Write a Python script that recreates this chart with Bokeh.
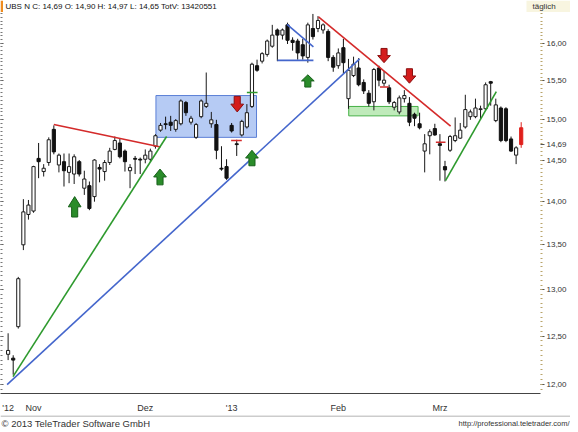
import math
from bokeh.plotting import figure
from bokeh.layouts import column
from bokeh.models import Range1d, FixedTicker, ColumnDataSource, LogAxis
from bokeh.core.properties import value
from bokeh.embed import file_html
from bokeh.resources import INLINE

# ---------------- data ----------------
opens = [12.31, 12.27, 12.60, 13.50, 13.85, 13.89, 14.52, 14.36, 14.47, 14.88,
         14.44, 14.48, 14.35, 14.33, 14.48, 14.16, 14.19, 14.06, 14.41, 14.36,
         14.47, 14.63, 14.71, 14.61, 14.37, 14.52, 14.51, 14.51, 14.51, 14.67,
         14.87, 14.95, 14.97, 14.88, 14.95, 15.22, 14.97, 14.78, 15.04, 15.17,
         14.95, 14.94, 14.40, 14.42, 14.93, 14.70, 14.81, 14.91, 15.17, 15.70,
         15.76, 15.85, 15.96, 16.18, 16.11, 16.25, 16.04, 16.03, 15.98, 15.81,
         16.20, 16.20, 16.18, 16.16, 15.81, 15.70, 15.94, 15.27, 15.57, 15.67,
         15.48, 15.34, 15.23, 15.67, 15.47, 15.41, 15.16, 15.10, 15.27, 15.21,
         15.07, 14.95, 14.61, 14.80, 14.89, 14.70, 14.42, 14.62, 14.74, 14.77,
         14.91, 15.04, 15.04, 15.13, 15.14, 15.49, 14.99, 15.15, 15.14, 14.76,
         14.56, 14.90]
highs = [12.53, 12.30, 13.14, 14.03, 14.02, 14.43, 14.71, 14.45, 14.78, 14.93,
         14.58, 14.58, 14.58, 14.57, 14.50, 14.37, 14.24, 14.51, 14.45, 14.50,
         14.65, 14.79, 14.77, 14.63, 14.45, 14.55, 14.53, 14.63, 14.64, 14.82,
         14.96, 15.04, 15.05, 15.01, 15.26, 15.24, 15.05, 14.96, 15.26, 15.61,
         15.10, 15.00, 14.67, 14.51, 14.96, 14.75, 15.00, 15.20, 15.74, 15.78,
         15.88, 16.05, 16.25, 16.20, 16.20, 16.28, 16.08, 16.06, 16.06, 16.28,
         16.40, 16.37, 16.27, 16.19, 15.84, 15.93, 16.06, 15.79, 15.82, 15.80,
         15.52, 15.38, 15.67, 15.70, 15.63, 15.45, 15.24, 15.31, 15.38, 15.29,
         15.09, 15.09, 14.82, 14.88, 14.95, 14.82, 14.49, 14.81, 15.03, 14.96,
         15.32, 15.13, 15.27, 15.18, 15.48, 15.50, 15.27, 15.17, 15.16, 14.79,
         14.67, 14.97]
lows = [12.25, 12.10, 12.58, 13.44, 13.79, 13.87, 14.28, 14.30, 14.43, 14.57,
        14.35, 14.18, 14.22, 14.21, 14.30, 14.08, 13.90, 14.00, 14.23, 14.25,
        14.44, 14.62, 14.52, 14.36, 14.16, 14.33, 14.33, 14.46, 14.48, 14.64,
        14.85, 14.88, 14.86, 14.85, 14.93, 15.05, 14.94, 14.76, 15.02, 15.15,
        14.90, 14.51, 14.37, 14.26, 14.84, 14.55, 14.79, 14.89, 15.15, 15.62,
        15.73, 15.82, 15.94, 15.76, 16.05, 15.99, 15.90, 15.78, 15.78, 15.74,
        16.05, 16.15, 16.13, 15.76, 15.62, 15.66, 15.60, 15.14, 15.55, 15.43,
        15.33, 15.17, 15.12, 15.43, 15.43, 15.20, 15.12, 15.07, 15.22, 14.92,
        14.92, 14.88, 14.35, 14.57, 14.80, 14.25, 14.24, 14.60, 14.72, 14.76,
        14.89, 15.00, 15.02, 15.00, 15.12, 15.18, 14.97, 14.72, 14.72, 14.60,
        14.45, 14.65]
closes = [12.35, 12.25, 13.12, 13.88, 13.96, 14.42, 14.48, 14.40, 14.75, 14.60,
          14.56, 14.37, 14.42, 14.54, 14.33, 14.27, 13.92, 14.50, 14.39, 14.47,
          14.61, 14.74, 14.54, 14.48, 14.41, 14.51, 14.50, 14.56, 14.61, 14.80,
          14.93, 14.94, 14.93, 14.99, 15.24, 15.09, 15.02, 14.94, 15.24, 15.21,
          15.00, 14.62, 14.39, 14.28, 14.86, 14.69, 14.98, 15.09, 15.72, 15.64,
          15.86, 16.03, 16.11, 16.11, 16.18, 16.04, 16.01, 15.87, 15.83, 16.25,
          16.09, 16.31, 16.25, 15.81, 15.68, 15.87, 15.74, 15.64, 15.72, 15.45,
          15.37, 15.21, 15.65, 15.51, 15.51, 15.23, 15.22, 15.28, 15.31, 14.97,
          15.02, 14.90, 14.70, 14.85, 14.81, 14.68, 14.38, 14.79, 14.80, 14.87,
          15.13, 15.10, 15.15, 15.14, 15.45, 15.47, 15.19, 14.74, 14.74, 14.61,
          14.65, 14.69]
total_volume = 13420551
instrument = "UBS N"
interval_label = "täglich"
copyright_text = "© 2013 TeleTrader Software GmbH"
source_url = "http://professional.teletrader.com/"

x_tick_pos = [0, 5, 27, 44, 65, 85]
x_tick_labels = ["'12", "Nov", "Dez", "'13", "Feb", "Mrz"]
y_tick_values = [12.0, 12.5, 13.0, 13.5, 14.0, 14.5, 15.0, 15.5, 16.0]
y_tick_labels = ["12,00", "12,50", "13,00", "13,50", "14,00", "14,50", "15,00", "15,50", "16,00"]

# drawn trend lines (candle index, price)
trend_x0 = [9.0, 0.96, -0.2, 54.9, 53.0, 61.1, 86.1]
trend_p0 = [14.94, 12.08, 12.00, 16.255, 15.77, 16.36, 14.25]
trend_x1 = [30.0, 31.2, 69.2, 60.1, 60.1, 87.1, 96.1]
trend_p1 = [14.66, 14.79, 15.79, 15.95, 15.77, 14.92, 15.36]
trend_kind = ["red", "green", "blue", "blue", "blue", "red", "green"]

# zones (index range, price range)
zone_left = [29.1, 67.05]
zone_right = [48.9, 80.7]
zone_top = [15.31, 15.17]
zone_bottom = [14.78, 15.05]
zone_kind = ["blue", "green"]

# signal arrows
up_x = [13.1, 29.9, 48.0, 59.0]
up_tip = [14.06, 14.39, 14.62, 15.58]
up_base = [13.82, 14.20, 14.43, 15.42]
down_x = [45.1, 74.0, 79.0]
down_top = [15.30, 15.93, 15.66]
down_tip = [15.10, 15.74, 15.47]

# stop / entry marks (index range, price)
stop_x0 = [43.9, 73.2, 84.2]
stop_x1 = [46.0, 74.9, 86.1]
stop_p = [14.74, 15.42, 14.72]
entry_x0 = [47.0]
entry_x1 = [49.1]
entry_p = [15.35]

# ---------------- styles ----------------
FONT = "Liberation Sans"
line_colors = {"red": "#d42a2a", "green": "#2e9a2e", "blue": "#4466cc"}
zone_fill = {"blue": "#a9c2f2", "green": "#b4e6ae"}
zone_line = {"blue": "#5b7fd6", "green": "#45b045"}

W = 570
x_lo, x_hi = -1.5, 104.8
y_lo, y_hi = 11.91, 16.42
FW, FH = 540, 381


def fmt(v):
    return f"{v:.2f}".replace(".", ",")


def no_align(f):
    if "frame_align" in f.properties():
        f.frame_align = False


def strip(height):
    f = figure(width=W, height=height, x_range=Range1d(0, W), y_range=Range1d(0, height),
               output_backend="svg", toolbar_location=None,
               min_border=0, x_axis_location=None, y_axis_location=None)
    f.outline_line_color = None
    f.xgrid.visible = False
    f.ygrid.visible = False
    no_align(f)
    return f


# ---------------- header strip ----------------
header = (f"{instrument} C: {fmt(closes[-1])} O: {fmt(opens[-1])} H: {fmt(highs[-1])} "
          f"L: {fmt(lows[-1])} TotV: {total_volume}")
top = strip(12)
top.quad(left=[0], right=[2.5], bottom=[0], top=[12], fill_color="#f08c1e", line_color=None)
top.quad(left=[526], right=[W], bottom=[0], top=[12], fill_color="#f8f5e0", line_color=None)
top.text(x=[5], y=[6], text=[header], text_font=value(FONT), text_font_size="8px",
         text_color="#111111", text_baseline="middle")
top.text(x=[532], y=[6], text=[interval_label], text_font=value(FONT), text_font_size="8px",
         text_color="#333333", text_baseline="middle")

# ---------------- main chart ----------------
p = figure(frame_width=FW, frame_height=FH, y_axis_type="log", y_axis_location="right",
           x_range=Range1d(x_lo, x_hi), y_range=Range1d(y_lo, y_hi),
           output_backend="svg", toolbar_location=None,
           min_border_left=0, min_border_right=28, min_border_top=0, min_border_bottom=17)
no_align(p)
p.outline_line_color = None
p.background_fill_color = "white"
p.border_fill_color = "white"
p.xgrid.visible = False
p.ygrid.visible = False

minor = [round(11.95 + 0.05 * i, 2) for i in range(0, 91)]
last_close = closes[-1]
ya = p.yaxis[0]
ya.ticker = FixedTicker(ticks=y_tick_values + [last_close], minor_ticks=minor)
overrides = {v: l for v, l in zip(y_tick_values, y_tick_labels)}
overrides[last_close] = fmt(last_close)
ya.major_label_overrides = overrides
ya.axis_line_color = None
ya.major_tick_line_color = "#555555"
ya.major_tick_out = 4
ya.major_tick_in = 0
ya.minor_tick_line_color = "#b9a46a"
ya.minor_tick_out = 2
ya.minor_tick_in = 0
ya.major_label_text_font = FONT
ya.major_label_text_font_size = "8px"
ya.major_label_text_color = "#333333"
ya.major_label_standoff = 2

# left edge: tick marks only
la = LogAxis(ticker=FixedTicker(ticks=y_tick_values, minor_ticks=minor),
             major_label_text_font_size="0px", major_label_standoff=0,
             axis_line_color=None, major_tick_in=3, major_tick_out=0,
             minor_tick_in=2, minor_tick_out=0,
             major_tick_line_color="#555555", minor_tick_line_color="#777777")
la.major_label_overrides = {v: "" for v in y_tick_values}
p.add_layout(la, "left")

xa = p.xaxis[0]
xa.ticker = FixedTicker(ticks=x_tick_pos)
xa.major_label_overrides = {v: l for v, l in zip(x_tick_pos, x_tick_labels)}
xa.axis_line_color = "#444444"
xa.major_tick_line_color = None
xa.minor_tick_line_color = None
xa.major_label_text_font = FONT
xa.major_label_text_font_size = "9px"
xa.major_label_text_color = "#333333"
xa.major_label_standoff = 3

# zones
p.quad(left=zone_left, right=zone_right, top=zone_top, bottom=zone_bottom,
       fill_color=[zone_fill[k] for k in zone_kind], fill_alpha=0.85,
       line_color=[zone_line[k] for k in zone_kind], line_width=1)

# candles
n = len(closes)
xs = list(range(n))
body_top = [max(o, c) for o, c in zip(opens, closes)]
body_bot = [min(o, c) for o, c in zip(opens, closes)]
fills, edges = [], []
for i, (o, c) in enumerate(zip(opens, closes)):
    if i == n - 1:
        fills.append("#e0201c"); edges.append("#e0201c")
    elif c >= o:
        fills.append("white"); edges.append("#1a1a1a")
    else:
        fills.append("#111111"); edges.append("#111111")
src = ColumnDataSource(dict(x=xs, o=opens, h=highs, l=lows, c=closes,
                            bt=body_top, bb=body_bot, fill=fills, edge=edges))
p.segment(x0="x", y0="h", x1="x", y1="l", source=src, line_color="edge", line_width=1)
p.vbar(x="x", top="bt", bottom="bb", width=0.62, source=src,
       fill_color="fill", line_color="edge", line_width=1)

# trend lines
p.segment(x0=trend_x0, y0=trend_p0, x1=trend_x1, y1=trend_p1,
          line_color=[line_colors[k] for k in trend_kind], line_width=1.6)

# stop / entry marks
p.segment(x0=stop_x0, y0=stop_p, x1=stop_x1, y1=stop_p, line_color="#d42a2a", line_width=1.5)
p.segment(x0=entry_x0, y0=entry_p, x1=entry_x1, y1=entry_p, line_color="#2e9a2e", line_width=1.5)


# arrows as polygons (log-interpolated vertical positions)
def mid(a, b, t):
    return math.exp(math.log(a) + (math.log(b) - math.log(a)) * t)


hw, sw = 1.25, 0.6


def arrow_poly(x, tip, base):
    h = mid(tip, base, 0.5)
    return ([x, x + hw, x + sw, x + sw, x - sw, x - sw, x - hw],
            [tip, h, h, base, base, h, h])


ux, uy = [], []
for x, t, b in zip(up_x, up_tip, up_base):
    a, bb = arrow_poly(x, t, b); ux.append(a); uy.append(bb)
p.patches(ux, uy, fill_color="#2a8c2a", line_color="#17601a", line_width=1)
dx, dy = [], []
for x, t, b in zip(down_x, down_tip, down_top):
    a, bb = arrow_poly(x, t, b); dx.append(a); dy.append(bb)
p.patches(dx, dy, fill_color="#d41c1c", line_color="#8a1010", line_width=1)

# ---------------- footer strip ----------------
bot = strip(14)
bot.segment(x0=[0], y0=[13.5], x1=[W], y1=[13.5], line_color="#9a9a9a", line_width=1)
bot.text(x=[1], y=[6], text=[copyright_text], text_font=value(FONT), text_font_size="9.5px",
         text_color="#333333", text_baseline="middle")
bot.text(x=[W - 1], y=[6], text=[source_url], text_font=value(FONT), text_font_size="7.5px",
         text_color="#333333", text_baseline="middle", text_align="right")

layout = column(top, p, bot, spacing=0)
open("out.html", "w").write(file_html(layout, INLINE))
